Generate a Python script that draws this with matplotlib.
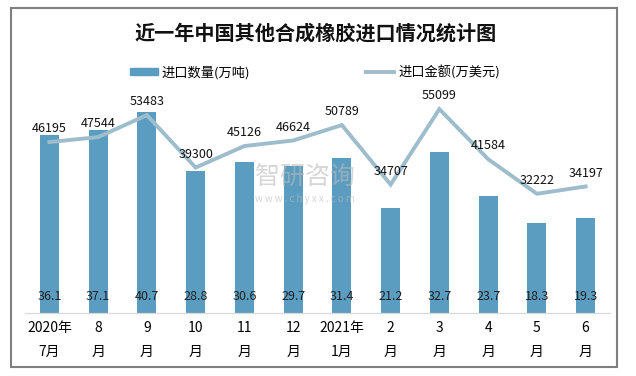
import matplotlib
matplotlib.use('Agg')
import matplotlib.pyplot as plt
from matplotlib.patches import Rectangle
import numpy as np

plt.rcParams['font.family'] = ['Noto Sans CJK SC', 'DejaVu Sans']

months = ['2020年\n7月', '8\n月', '9\n月', '10\n月', '11\n月', '12\n月',
          '2021年\n1月', '2\n月', '3\n月', '4\n月', '5\n月', '6\n月']
qty = [36.1, 37.1, 40.7, 28.8, 30.6, 29.7, 31.4, 21.2, 32.7, 23.7, 18.3, 19.3]
amount = [46195, 47544, 53483, 39300, 45126, 46624, 50789, 34707, 55099, 41584, 32222, 34197]

C_BAR = '#5B9DC0'
C_LINE = '#9DBDCC'
W, H = 636, 376

fig = plt.figure(figsize=(W / 100, H / 100), dpi=100)
fig.patches.append(Rectangle((11 / W, 1 - 367 / H), 606 / W, 359 / H, transform=fig.transFigure,
                             fill=False, edgecolor='#7F7F7F', linewidth=1.5))

ax = fig.add_axes([25 / W, 1 - 313 / H, 585 / W, 222 / H])
ax2 = ax.twinx()
ax.set_zorder(ax2.get_zorder() - 1)
ax.patch.set_visible(False)

x = np.arange(len(months))
ax.bar(x, qty, 0.39, color=C_BAR, zorder=2)
for xi, v in zip(x, qty):
    ax.text(xi, 3.3, f'{v:.1f}', ha='center', va='center', fontsize=9, color='#222222', zorder=3)

ax2.plot(x, amount, color=C_LINE, linewidth=2.8, solid_joinstyle='miter')
for xi, v in zip(x, amount):
    ax2.annotate(f'{v}', (xi, v), xytext=(0, 5), textcoords='offset points',
                 ha='center', va='bottom', fontsize=9, color='#111111')

ax.set_xlim(-0.5, len(months) - 0.5)
ax.set_ylim(0, 45)
ax2.set_ylim(0, 60000)
ax.set_xticks(x)
ax.set_xticklabels(months, fontsize=10, linespacing=1.9)
ax.tick_params(axis='x', length=0, pad=6)
ax.set_yticks([]); ax2.set_yticks([])
for a in (ax, ax2):
    for s in ('top', 'left', 'right'):
        a.spines[s].set_visible(False)
    a.spines['bottom'].set_color('#D9D9D9')

# watermark
fig.text(305 / W, 1 - 177 / H, '智研咨询', fontsize=18, color='#BBBBBB', alpha=0.6,
         ha='center', va='center', zorder=0)
fig.text(305 / W, 1 - 199 / H, 'w w w . c h y x x . c o m', fontsize=7, color='#BBBBBB', alpha=0.6,
         ha='center', va='center', zorder=0)

fig.text(316 / W, 1 - 33 / H, '近一年中国其他合成橡胶进口情况统计图', fontsize=14.5,
         fontweight='bold', ha='center', va='center', color='#111111')

h1 = Rectangle((0, 0), 1, 1, color=C_BAR)
h2 = plt.Line2D([], [], color=C_LINE, linewidth=2.8)
fig.legend([h1, h2], ['进口数量(万吨)', '进口金额(万美元)'], loc='center',
           bbox_to_anchor=(315 / W, 1 - 72 / H), ncol=2, frameon=False, fontsize=9.5,
           handlelength=2.1, handleheight=0.5, columnspacing=8.8, handletextpad=0.3)

fig.savefig('out.png', dpi=100, facecolor='white')
